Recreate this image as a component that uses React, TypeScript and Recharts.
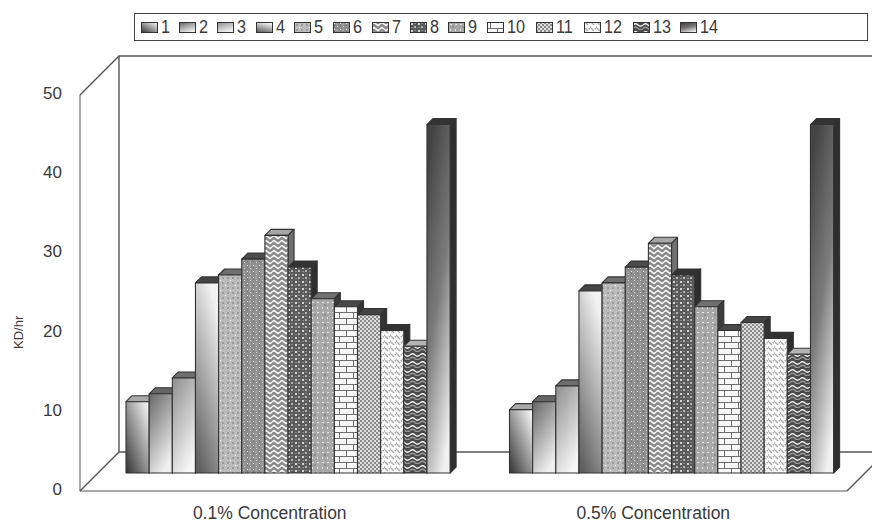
import React from 'react';
import { BarChart, Bar, XAxis, YAxis, Legend, usePlotArea } from 'recharts';

const categories = ['0.1% Concentration', '0.5% Concentration'];
const seriesNames = ['1', '2', '3', '4', '5', '6', '7', '8', '9', '10', '11', '12', '13', '14'];
const series1 = [9, 8];
const series2 = [10, 9];
const series3 = [12, 11];
const series4 = [24, 23];
const series5 = [25, 24];
const series6 = [27, 26];
const series7 = [30, 29];
const series8 = [26, 25];
const series9 = [22, 21];
const series10 = [21, 18];
const series11 = [20, 19];
const series12 = [18, 17];
const series13 = [16, 15];
const series14 = [44, 44];
const allSeries = [
  series1, series2, series3, series4, series5, series6, series7,
  series8, series9, series10, series11, series12, series13, series14,
];
const yTicks = [0, 10, 20, 30, 40, 50];

// Shading of the upper and right faces of each cuboid.
const topFaces = ['#a9a9a9', '#666', '#6e6e6e', '#444', '#707070', '#4c4c4c', '#a6a6a6', '#333', '#707070', '#484848', '#444', '#333', '#b4b4b4', '#333'];
const sideFaces = ['#555', '#444', '#444', '#333', '#444', '#333', '#707070', '#2e2e2e', '#3c3c3c', '#333', '#333', '#2e2e2e', '#555', '#2e2e2e'];

const FONT = '"Liberation Sans", Arial, sans-serif';
const TEXT = '#3a3a3a';
const WALL = '#555';
const WALL_DEPTH = 39;
const BAR_SHIFT_X = 16;
const BAR_SHIFT_Y = 18;
const CUBE_DEPTH = 6;

const data = categories.map((name, i) => {
  const row: Record<string, string | number> = { name };
  allSeries.forEach((values, s) => {
    row[seriesNames[s]] = values[i];
  });
  return row;
});

function Defs() {
  return (
    <defs>
      <linearGradient id="f1" x1="0.95" y1="0.08" x2="0.1" y2="1">
        <stop offset="0" stopColor="#f0f0f0" />
        <stop offset="1" stopColor="#3c3c3c" />
      </linearGradient>
      <linearGradient id="f2" x1="0.1" y1="0" x2="0.6" y2="1">
        <stop offset="0" stopColor="#6c6c6c" />
        <stop offset="1" stopColor="#f0f0f0" />
      </linearGradient>
      <linearGradient id="f3" x1="0.1" y1="0" x2="0.6" y2="1">
        <stop offset="0" stopColor="#929292" />
        <stop offset="1" stopColor="#f6f6f6" />
      </linearGradient>
      <linearGradient id="f4" x1="0.6" y1="0" x2="0.2" y2="1">
        <stop offset="0" stopColor="#f2f2f2" />
        <stop offset="1" stopColor="#5e5e5e" />
      </linearGradient>
      <linearGradient id="f14" x1="0.3" y1="0" x2="0.7" y2="1">
        <stop offset="0" stopColor="#444" />
        <stop offset="0.5" stopColor="#7c7c7c" />
        <stop offset="1" stopColor="#f2f2f2" />
      </linearGradient>

      <pattern id="f5" width="10" height="10" patternUnits="userSpaceOnUse" shapeRendering="crispEdges">
        <rect width="10" height="10" fill="#bcbcbc" />
        <rect x="2" y="2" width="2" height="2" fill="#9c9c9c" />
        <rect x="7" y="2" width="2" height="2" fill="#9c9c9c" />
        <rect x="2" y="7" width="2" height="2" fill="#9c9c9c" />
        <rect x="7" y="7" width="2" height="2" fill="#9c9c9c" />
        <rect x="5" y="5" width="1" height="1" fill="#fff" />
        <rect x="0" y="0" width="1" height="1" fill="#fff" />
      </pattern>
      <pattern id="f6" width="6" height="6" patternUnits="userSpaceOnUse" shapeRendering="crispEdges">
        <rect width="6" height="6" fill="#8e8e8e" />
        <rect x="1" y="1" width="1" height="1" fill="#f2f2f2" />
        <rect x="4" y="4" width="1" height="1" fill="#d8d8d8" />
        <rect x="3" y="1" width="2" height="2" fill="#a4a4a4" />
        <rect x="1" y="3" width="1" height="1" fill="#707070" />
      </pattern>
      <pattern id="f7" width="8" height="5" patternUnits="userSpaceOnUse">
        <rect width="8" height="5" fill="#8a8a8a" />
        <path d="M-1 2.5 L2 0.5 L6 3.5 L9 1.5 M-1 7.5 L2 5.5 L6 8.5 L9 6.5 M-1 -2.5 L2 -4.5 L6 -1.5 L9 -3.5" fill="none" stroke="#fff" strokeWidth="1.5" />
      </pattern>
      <pattern id="f8" width="7" height="7" patternUnits="userSpaceOnUse" shapeRendering="crispEdges">
        <rect width="7" height="7" fill="#5a5a5a" />
        <rect x="1" y="1" width="2" height="2" fill="#d4d4d4" />
        <rect x="4" y="4" width="2" height="2" fill="#b4b4b4" />
        <rect x="4" y="1" width="2" height="1" fill="#8a8a8a" />
        <rect x="1" y="5" width="2" height="1" fill="#8a8a8a" />
      </pattern>
      <pattern id="f9" width="10" height="10" patternUnits="userSpaceOnUse" shapeRendering="crispEdges">
        <rect width="10" height="10" fill="#a8a8a8" />
        <rect x="2" y="2" width="2" height="1" fill="#e4e4e4" />
        <rect x="7" y="2" width="2" height="1" fill="#e4e4e4" />
        <rect x="2" y="7" width="1" height="2" fill="#e4e4e4" />
        <rect x="7" y="7" width="1" height="2" fill="#e4e4e4" />
        <rect x="4" y="4" width="2" height="2" fill="#8e8e8e" />
      </pattern>
      <pattern id="f10" width="14" height="12" patternUnits="userSpaceOnUse" shapeRendering="crispEdges">
        <rect width="14" height="12" fill="#f8f8f8" />
        <rect y="0" width="14" height="1" fill="#6e6e6e" />
        <rect y="6" width="14" height="1" fill="#6e6e6e" />
        <rect x="3" y="1" width="1" height="5" fill="#6e6e6e" />
        <rect x="10" y="7" width="1" height="5" fill="#6e6e6e" />
      </pattern>
      <pattern id="f11" width="4" height="4" patternUnits="userSpaceOnUse" shapeRendering="crispEdges">
        <rect width="4" height="4" fill="#dcdcdc" />
        <rect x="0" y="0" width="2" height="2" fill="#8c8c8c" />
        <rect x="2" y="2" width="2" height="2" fill="#8c8c8c" />
      </pattern>
      <pattern id="f12" width="6" height="6" patternUnits="userSpaceOnUse">
        <rect width="6" height="6" fill="#fbfbfb" />
        <path d="M1 0 L4 3 M-2 3 L1 6 M4 -1 L7 2" stroke="#a8a8a8" strokeWidth="1.4" fill="none" />
      </pattern>
      <pattern id="f13" width="10" height="8" patternUnits="userSpaceOnUse">
        <rect width="10" height="8" fill="#4a4a4a" />
        <path d="M0 3 Q2.5 0.5 5 3 T10 3" fill="none" stroke="#f4f4f4" strokeWidth="1.2" />
        <path d="M0 6.5 Q2.5 4 5 6.5 T10 6.5" fill="none" stroke="#9a9a9a" strokeWidth="1.2" />
      </pattern>
    </defs>
  );
}

// Back wall and floor of the box, projected from the plot rectangle.
function Walls() {
  const area = usePlotArea();
  if (!area) return null;
  const l = area.x;
  const t = area.y;
  const r = area.x + area.width;
  const b = area.y + area.height;
  const d = WALL_DEPTH;
  const line = `M${l} ${t} L${l + d} ${t - d} L${r + d} ${t - d} M${l + d} ${t - d} L${l + d} ${b - d} L${r + d} ${b - d} M${l} ${b} L${l + d} ${b - d} M${r} ${b} L${r + d} ${b - d}`;
  return <path d={line} fill="none" stroke={WALL} strokeWidth={1.4} />;
}

function Cube(props: any) {
  const { x, y, width, height, fill } = props;
  const d = CUBE_DEPTH;
  const fx = x + BAR_SHIFT_X;
  const fy = y - BAR_SHIFT_Y;
  const s = props.seriesIndex as number;
  return (
    <g stroke="#333" strokeWidth={1.1} strokeLinejoin="round">
      <path
        d={`M${fx} ${fy} L${fx + d} ${fy - d} L${fx + width + d} ${fy - d} L${fx + width} ${fy} Z`}
        fill={topFaces[s]}
      />
      <path
        d={`M${fx + width} ${fy} L${fx + width + d} ${fy - d} L${fx + width + d} ${fy + height - d} L${fx + width} ${fy + height} Z`}
        fill={sideFaces[s]}
      />
      <rect x={fx} y={fy} width={width} height={height} fill={fill} />
    </g>
  );
}

const swatchX = [141, 179, 217, 256, 294, 333, 372, 410, 448, 487, 536, 584, 633, 680];

function LegendBox({ payload }: any) {
  const items = payload ?? [];
  return (
    <div
      style={{
        position: 'absolute',
        left: 134,
        top: 13,
        width: 732,
        height: 26,
        border: '1px solid #444',
        background: '#fff',
        fontFamily: FONT,
        fontSize: 18,
        color: TEXT,
      }}
    >
      {items.map((item: any, i: number) => (
        <div key={item.value} style={{ position: 'absolute', left: swatchX[i] - 135, top: 3, lineHeight: '20px', whiteSpace: 'nowrap' }}>
          <svg width={17} height={12} style={{ position: 'absolute', left: 0, top: 5 }}>
            <rect x={0.5} y={0.5} width={16} height={10} fill={`url(#f${i + 1})`} stroke="#333" />
          </svg>
          <span style={{ position: 'absolute', left: 20, top: 0, transform: 'scaleX(0.9)', transformOrigin: 'left center' }}>{item.value}</span>
        </div>
      ))}
    </div>
  );
}

export default function App() {
  return (
    <div style={{ position: 'absolute', left: 0, top: 0, width: 872, height: 523, overflow: 'hidden', background: '#fff' }}>
      <BarChart
        width={872}
        height={523}
        data={data}
        barGap={0}
        barSize={23.15}
        margin={{ top: 95, right: 25, bottom: 0, left: 40 }}
        style={{ fontFamily: FONT }}
      >
        <Defs />
        <Walls />
        <XAxis
          dataKey="name"
          interval={0}
          stroke={WALL}
          tickLine={false}
          tickMargin={10}
          height={32}
          tick={{ fill: TEXT, fontSize: 17.5, fontFamily: FONT, dx: -2 }}
        />
        <YAxis
          domain={[0, 50]}
          ticks={yTicks}
          width={40}
          stroke={WALL}
          tickLine={false}
          tickMargin={12}
          tick={{ fill: TEXT, fontSize: 17, fontFamily: FONT, dy: -2 }}
          label={{ value: 'KD/hr', angle: -90, position: 'insideLeft', offset: 0, dx: -22, dy: 56, fill: TEXT, fontSize: 13, fontFamily: FONT }}
        />
        <Legend
          itemSorter={null}
          content={<LegendBox />}
          wrapperStyle={{ position: 'absolute', left: 0, top: 0, width: 0, height: 0 }}
        />
        {seriesNames.map((name, s) => (
          <Bar
            key={name}
            dataKey={name}
            name={name}
            fill={`url(#f${s + 1})`}
            isAnimationActive={false}
            shape={(p: any) => <Cube {...p} seriesIndex={s} />}
          />
        ))}
      </BarChart>
    </div>
  );
}
